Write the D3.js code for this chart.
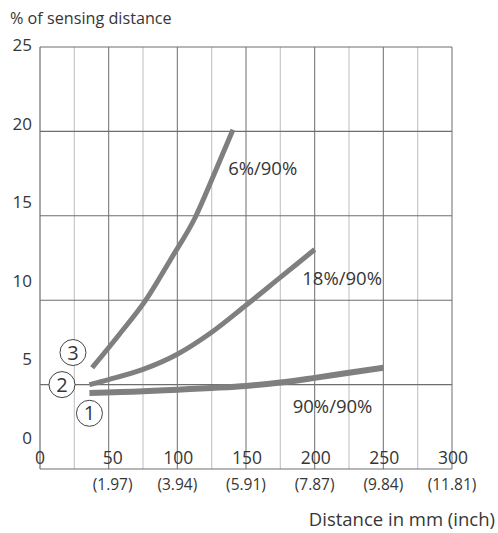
<!DOCTYPE html>
<html>
<head>
<meta charset="utf-8">
<script src="https://cdn.jsdelivr.net/npm/d3@7.9.0/dist/d3.min.js"></script>
<style>
  body { margin: 0; background: #fff; }
  text { font-family: "Open Sans", sans-serif; fill: #363636; }
</style>
</head>
<body>
<svg id="chart" width="498" height="533"></svg>
<script>
// values
const xTicks = [0, 50, 100, 150, 200, 250, 300];
const inchLabels = ['', '(1.97)', '(3.94)', '(5.91)', '(7.87)', '(9.84)', '(11.81)'];
const yTicks = [0, 5, 10, 15, 20, 25];

const curve90 = [[36, 4.5], [75, 4.6], [100, 4.7], [125, 4.8], [150, 4.92], [175, 5.12], [200, 5.4], [225, 5.7], [250, 6.0]];
const curve18 = [[36, 5.0], [50, 5.3], [75, 5.9], [100, 6.8], [125, 8.1], [150, 9.7], [175, 11.35], [200, 13.0]];
const curve6 = [[38, 6.0], [58, 8.0], [77, 10.0], [95, 12.4], [113, 14.9], [127, 17.5], [140.5, 20.1]];

const seriesLabels = ['90%/90%', '18%/90%', '6%/90%'];
const seriesLabelPos = [[184, 3.7], [191, 11.3], [137, 17.8]];
const markerPos = [[36, 3.3], [16, 5.0], [24, 6.9]];

const svg = d3.select('#chart');
const x = d3.scaleLinear().domain([0, 300]).range([40, 452]);
const y = d3.scaleLinear().domain([0, 25]).range([469, 47]);
// tick labels drift upward relative to their gridlines in the original
const yLabel = d3.scaleLinear().domain([0, 25]).range([438, 45]);

// grid
const minor = d3.range(25, 300, 50);
const major = d3.range(50, 301, 50);
svg.append('g').selectAll('line').data(minor).join('line')
  .attr('x1', d => x(d)).attr('x2', d => x(d))
  .attr('y1', y(25)).attr('y2', y(0))
  .attr('stroke', '#c8c8c8').attr('stroke-width', 1.2);
svg.append('g').selectAll('line').data(major).join('line')
  .attr('x1', d => x(d)).attr('x2', d => x(d))
  .attr('y1', y(25)).attr('y2', y(0))
  .attr('stroke', '#7a7a7a').attr('stroke-width', 1.1);
svg.append('g').selectAll('line').data(yTicks).join('line')
  .attr('x1', x(0)).attr('x2', x(300))
  .attr('y1', d => y(d)).attr('y2', d => y(d))
  .attr('stroke', '#6e6e6e').attr('stroke-width', 1.1);
svg.append('line')
  .attr('x1', x(0)).attr('x2', x(0))
  .attr('y1', y(25)).attr('y2', y(0))
  .attr('stroke', '#6e6e6e').attr('stroke-width', 1.2);

// curves
const line = d3.line()
  .x(d => x(d[0])).y(d => y(d[1]))
  .curve(d3.curveMonotoneX);

[curve90, curve18, curve6].forEach((c, i) => {
  svg.append('path')
    .attr('d', line(c))
    .attr('fill', 'none')
    .attr('stroke', '#7f7f7f')
    .attr('stroke-width', i === 0 ? 6 : 5);
});

// curve labels
seriesLabels.forEach((s, i) => {
  svg.append('text')
    .attr('x', x(seriesLabelPos[i][0]))
    .attr('y', y(seriesLabelPos[i][1]))
    .attr('dy', '0.35em')
    .attr('font-size', 18.5)
    .text(s);
});

// circled markers
markerPos.forEach((p, i) => {
  const cx = x(p[0]), cy = y(p[1]);
  svg.append('circle')
    .attr('cx', cx).attr('cy', cy).attr('r', 13)
    .attr('fill', '#fff').attr('stroke', '#444').attr('stroke-width', 1);
  svg.append('text')
    .attr('x', cx).attr('y', cy).attr('dy', '0.36em')
    .attr('text-anchor', 'middle')
    .attr('font-size', 20)
    .text(i + 1);
});

// y tick labels
svg.append('g').selectAll('text').data(yTicks).join('text')
  .attr('x', 32).attr('y', d => yLabel(d))
  .attr('dy', '0.35em')
  .attr('text-anchor', 'end')
  .attr('font-size', 17)
  .text(d => d);

// x tick labels
svg.append('g').selectAll('text').data(xTicks).join('text')
  .attr('x', d => x(d) + (d === 50 ? 4 : d === 0 ? 0 : 1))
  .attr('y', 458)
  .attr('dy', '0.35em')
  .attr('text-anchor', 'middle')
  .attr('font-size', 17.5)
  .text(d => d);

svg.append('g').selectAll('text').data(xTicks).join('text')
  .attr('x', d => x(d) + (d === 50 ? 4 : 0))
  .attr('y', 485)
  .attr('dy', '0.35em')
  .attr('text-anchor', 'middle')
  .attr('font-size', 15.5)
  .text((d, i) => inchLabels[i]);

// axis titles
svg.append('text')
  .attr('x', 10).attr('y', 18).attr('dy', '0.35em')
  .attr('font-size', 16.2)
  .text('% of sensing distance');

svg.append('text')
  .attr('x', 495).attr('y', 520).attr('dy', '0.35em')
  .attr('text-anchor', 'end')
  .attr('font-size', 18.5)
  .text('Distance in mm (inch)');
</script>
</body>
</html>
